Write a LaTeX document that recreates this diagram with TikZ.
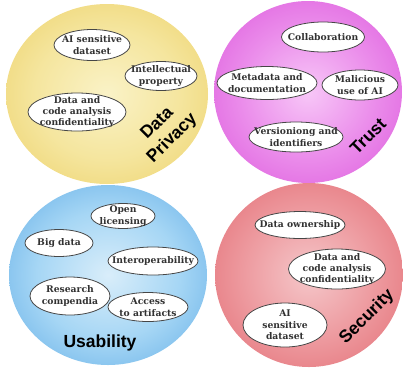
\documentclass[tikz,border=0pt]{standalone}
\usepackage{fontspec}
\setmainfont{DejaVu Serif}
\newfontfamily\labelfont{Liberation Sans}
\usetikzlibrary{shapes.geometric}

% Radial fills for the four theme discs: pale centre, saturated rim
\pgfdeclareradialshading{privacyfill}{\pgfpoint{0bp}{0bp}}{%
  rgb(0bp)=(0.98,0.95,0.78);rgb(18bp)=(0.96,0.90,0.62);rgb(40bp)=(0.92,0.80,0.36);rgb(50bp)=(0.89,0.76,0.28)}
\pgfdeclareradialshading{trustfill}{\pgfpoint{0bp}{0bp}}{%
  rgb(0bp)=(0.97,0.78,0.97);rgb(18bp)=(0.92,0.55,0.92);rgb(40bp)=(0.85,0.30,0.85);rgb(50bp)=(0.82,0.22,0.82)}
\pgfdeclareradialshading{usabilityfill}{\pgfpoint{0bp}{0bp}}{%
  rgb(0bp)=(0.85,0.93,0.98);rgb(18bp)=(0.65,0.84,0.96);rgb(40bp)=(0.32,0.64,0.89);rgb(50bp)=(0.22,0.58,0.86)}
\pgfdeclareradialshading{securityfill}{\pgfpoint{0bp}{0bp}}{%
  rgb(0bp)=(0.96,0.78,0.79);rgb(18bp)=(0.93,0.60,0.62);rgb(40bp)=(0.88,0.38,0.41);rgb(50bp)=(0.86,0.32,0.35)}

\definecolor{itemtext}{RGB}{50,50,50}
\definecolor{itemline}{RGB}{70,70,70}

\tikzset{
  disc/.style={draw=none},
  itembg/.style={draw=itemline, line width=0.8pt, fill=white},
  item/.style={inner sep=0pt, align=center, text=itemtext,
    font=\fontsize{9.2}{11.4}\selectfont\bfseries},
  theme/.style={font=\labelfont\fontsize{17.5}{21}\selectfont\bfseries,
    text=black, align=center, inner sep=0pt}
}

% \topic{name}{centre}{x radius}{y radius}{text}: white oval with its label
\newcommand\topic[5]{%
  \path[itembg] (#2) ellipse [x radius=#3, y radius=#4];
  \node[item] (#1) at (#2) {#5};}

\begin{document}
\begin{tikzpicture}[x=1pt,y=-1pt]
\useasboundingbox (0,0) rectangle (403,368);

% theme discs
\path[disc,shading=privacyfill]   (107,94)  ellipse [x radius=101,y radius=90];
\path[disc,shading=trustfill]     (308,92)  ellipse [x radius=94,y radius=91];
\path[disc,shading=usabilityfill] (108,275) ellipse [x radius=99,y radius=90];
\path[disc,shading=securityfill]  (309,275) ellipse [x radius=94,y radius=92];

% Data privacy
\topic{p1}{92,45}{38}{15.5}{AI sensitive\\dataset}
\topic{p2}{161,76}{36}{14.5}{Intellectual\\property}
\topic{p3}{77,112}{49}{19}{Data and\\code analysis\\confidentiality}
\node[theme,rotate=45] (pl) at (165,131) {Data\\Privacy};

% Trust
\topic{t1}{323,37}{41.5}{15}{Collaboration}
\topic{t2}{267,83}{50}{16.5}{Metadata and\\documentation}
\topic{t3}{360,85}{38}{15}{Malicious\\use of AI}
\topic{t4}{296,137}{47}{15}{Versioniong and\\identifiers}
\node[theme,rotate=45] (tl) at (368,136) {Trust};

% Usability
\topic{u1}{123,216}{32}{12.5}{Open\\licensing}
\topic{u2}{59,243}{34}{13.5}{Big data}
\topic{u3}{153,261}{45}{14}{Interoperability}
\topic{u4}{70,296}{40}{19}{Research\\compendia}
\topic{u5}{148,307}{40}{14.5}{Access\\to artifacts}
\node[theme] (ul) at (100,343) {Usability};

% Security
\topic{s1}{300,225}{45}{13.5}{Data ownership}
\topic{s2}{337,269}{48.5}{20}{Data and\\code analysis\\confidentiality}
\topic{s3}{285,325}{42}{22}{AI\\sensitive\\dataset}
\node[theme,rotate=45] (sl) at (367,317) {Security};
\end{tikzpicture}
\end{document}
